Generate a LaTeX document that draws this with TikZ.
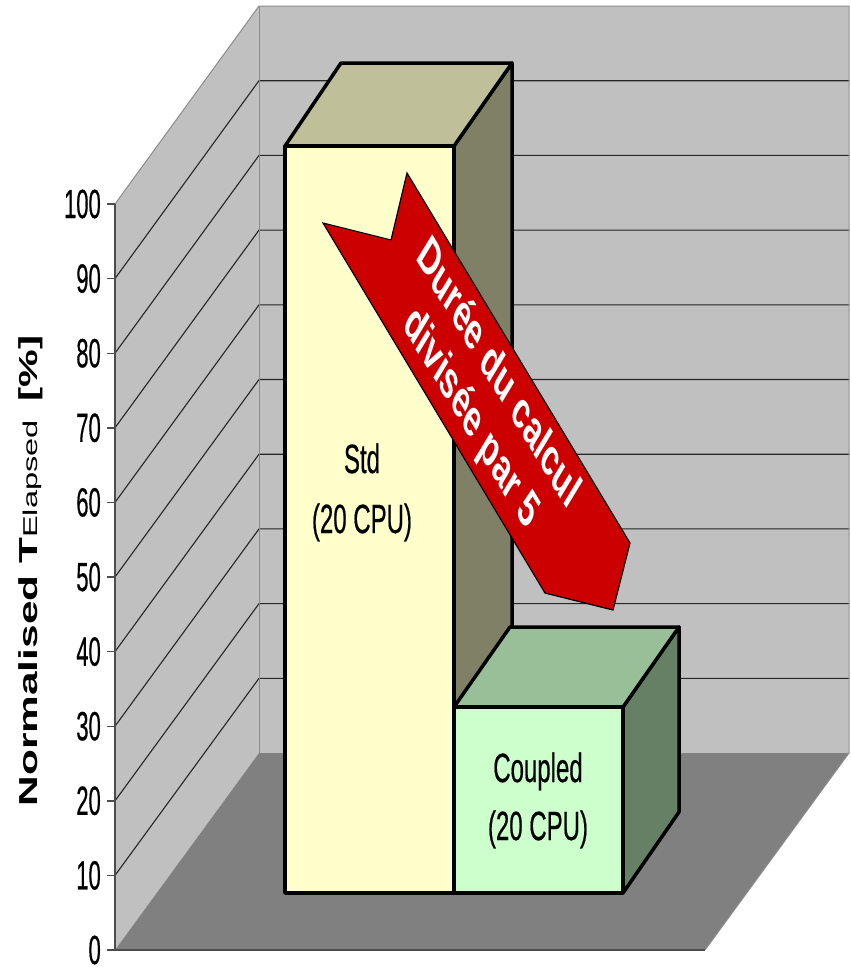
\documentclass[tikz,border=0pt]{standalone}
\usepackage{fontspec}
\setmainfont{Liberation Sans}
\newfontfamily\heavyfont[FakeBold=0.7]{Liberation Sans}
\definecolor{wallc}{HTML}{C0C0C0}
\definecolor{floorc}{HTML}{808080}
\definecolor{stdfront}{HTML}{FFFFCC}
\definecolor{stdtop}{HTML}{BFBF99}
\definecolor{stdside}{HTML}{808066}
\definecolor{cpfront}{HTML}{CCFFCC}
\definecolor{cptop}{HTML}{99BF99}
\definecolor{cpside}{HTML}{668066}
\definecolor{arrowred}{HTML}{CC0000}
\tikzset{
  wallline/.style={draw=black!45, line width=1pt},
  gridline/.style={draw=black!85, line width=1.1pt},
  axisline/.style={draw=black!70, line width=1.4pt},
  barface/.style={draw=black, line width=3.5pt, line join=round},
  ticklbl/.style={anchor=east, inner sep=0pt, yscale=1.85, font=\heavyfont\fontsize{22}{22}\selectfont},
  barlbl/.style={anchor=base, inner sep=0pt, yscale=1.7, font=\heavyfont\fontsize{24}{24}\selectfont},
  arrowshape/.style={fill=arrowred, draw=black, line width=1.2pt, line join=miter},
}
\begin{document}
\begin{tikzpicture}[x=1pt,y=-1pt]
\useasboundingbox[fill=white] (0,0) rectangle (851,967);
% walls and floor
\fill[wallc] (115,204) -- (259,6) -- (259,753) -- (115,950) -- cycle;
\fill[wallc] (259,6) rectangle (849,753);
\fill[floorc] (115,950) -- (259,753) -- (849,753) -- (705,950) -- cycle;
% gridlines
\foreach \k in {1,...,9} {
  \pgfmathsetmacro\yf{950-74.6*\k}
  \pgfmathsetmacro\yb{753-74.7*\k}
  \draw[gridline] (115,\yf) -- (259,\yb) -- (849,\yb);
}
% wall edges
\draw[wallline] (115,204) -- (259,6) -- (849,6) -- (849,753) -- (705,950);
\draw[wallline] (259,6) -- (259,753);
\draw[axisline] (115,950) -- (705,950);
\draw[axisline] (115,204) -- (115,950);
% ticks and labels
\foreach \k in {0,...,10} {
  \pgfmathsetmacro\yf{950-74.6*\k}
  \draw[axisline] (107,\yf) -- (115,\yf);
  \node[ticklbl] (t\k) at (101,\yf) {\the\numexpr\k*10\relax};
}
% axis title
\node[anchor=base, inner sep=0pt, yscale=1.63, rotate=90, font=\fontsize{26}{26}\selectfont] (ytitle) at (37,571)
  {\textbf{Normalised T}{\fontsize{20}{20}\selectfont Elapsed}\hspace{4pt}\textbf{ [\%]}};
% Std bar
\filldraw[barface, fill=stdside] (454,146) -- (512,63) -- (512,810) -- (454,893) -- cycle;
\filldraw[barface, fill=stdtop] (285,146) -- (341,63) -- (512,63) -- (454,146) -- cycle;
\filldraw[barface, fill=stdfront] (285,146) rectangle (454,893);
% Coupled bar
\filldraw[barface, fill=cpside] (623,707) -- (679,627) -- (679,812) -- (623,893) -- cycle;
\filldraw[barface, fill=cptop] (454,707) -- (510,627) -- (679,627) -- (623,707) -- cycle;
\filldraw[barface, fill=cpfront] (454,707) rectangle (623,893);
% bar labels
\node[barlbl] (std1) at (362,473) {Std};
\node[barlbl] (std2) at (362,533) {(20 CPU)};
\node[barlbl] (cp1) at (538,782) {Coupled};
\node[barlbl] (cp2) at (538,840) {(20 CPU)};
% arrow
\draw[arrowshape] (323,223) -- (391,240) -- (407,173) -- (630,543) -- (613,610) -- (545,593) -- cycle;
\node[yscale=1.65, rotate=-45, yscale=1.12, text=white, align=center, inner sep=0pt,
  font=\bfseries\fontsize{29}{34}\selectfont] (msg) at (484,397) {Durée du calcul\\divisée par 5};
\end{tikzpicture}
\end{document}
